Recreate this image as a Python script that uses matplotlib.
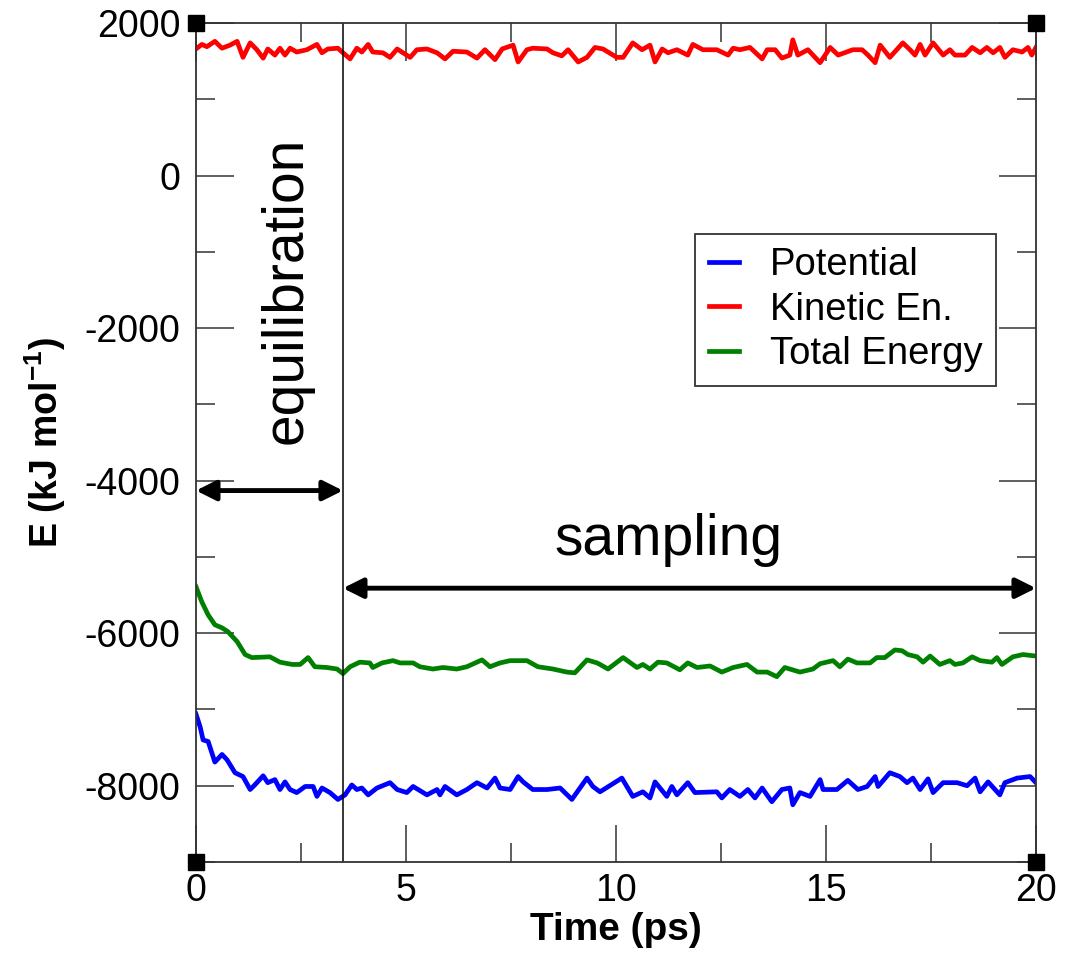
#!/usr/bin/env python
"""
energy_md.py

Potential / kinetic / total energy of a short MD run (xmgrace style)
"""

import numpy as np
import matplotlib as mpl
mpl.use('Agg')
import matplotlib.pyplot as plt
from matplotlib.ticker import MultipleLocator

plt.rcParams['font.family'] = ['Liberation Sans', 'DejaVu Sans']
plt.rcParams['axes.unicode_minus'] = False
plt.rcParams['mathtext.fontset'] = 'custom'
plt.rcParams['mathtext.rm'] = 'Liberation Sans'
plt.rcParams['mathtext.bf'] = 'Liberation Sans:bold'

"""------------------------------ data (read off plot) ------------------------------"""

pot_t = [0.0, 0.1, 0.17, 0.29, 0.45, 0.62, 0.74, 0.93, 1.12, 1.29, 1.4, 1.6, 1.71, 1.88,
         2.0, 2.12, 2.24, 2.4, 2.6, 2.79, 2.88, 3.0, 3.19, 3.38, 3.55, 3.71, 3.83, 3.95,
         4.1, 4.31, 4.62, 4.79, 5.02, 5.17, 5.5, 5.74, 5.81, 5.93, 6.21, 6.45, 6.69, 6.93,
         7.12, 7.24, 7.48, 7.67, 7.79, 8.02, 8.36, 8.67, 8.95, 9.31, 9.45,
         9.62, 10.14, 10.4, 10.64, 10.81, 10.93, 11.21, 11.33, 11.45, 11.71, 11.88, 12.4,
         12.52, 12.71, 12.95, 13.14, 13.31, 13.48, 13.71, 13.95, 14.14, 14.21, 14.38, 14.62,
         14.86, 14.93, 15.26, 15.52, 15.76, 15.98, 16.17, 16.24, 16.52, 16.76, 16.93, 17.07,
         17.24, 17.43, 17.55, 17.79, 18.12, 18.36, 18.55, 18.67, 18.86, 19.14, 19.26, 19.55,
         19.86, 20.0]
pot_e = [-7060, -7230, -7400, -7420, -7690, -7590, -7660, -7830, -7880, -8050, -7990, -7870,
         -7960, -7920, -8050, -7950, -8050, -8090, -8010, -8010, -8140, -8030, -8090, -8180,
         -8120, -7990, -8050, -8030, -8120, -8030, -7960, -8050, -8090, -8010, -8120, -8050,
         -8120, -8010, -8120, -8050, -7960, -8030, -7900, -8030, -8050, -7880, -7950, -8050,
         -8050, -8030, -8180, -7900, -8010,
         -8080, -7900, -8140, -8080, -8160, -7950, -8140, -8010, -8120, -7960, -8090, -8080,
         -8160, -8050, -8140, -8050, -8160, -8030, -8210, -8050, -8030, -8250, -8090, -8140,
         -7920, -8050, -8050, -7930, -8050, -8010, -7880, -8010, -7830, -7880, -7960, -7900,
         -8050, -7910, -8090, -7960, -7960, -8000, -7900, -8080, -7950, -8120, -7960, -7900,
         -7880, -7960]

kin_t = [0.0, 0.14, 0.26, 0.45, 0.62, 0.81, 0.98, 1.12, 1.29, 1.45, 1.6, 1.71, 1.88, 2.0,
         2.12, 2.24, 2.4, 2.64, 2.88, 3.0, 3.14, 3.38, 3.5, 3.67, 3.83, 3.95, 4.1, 4.21,
         4.45, 4.62, 4.79, 4.93, 5.1, 5.26, 5.5, 5.74, 5.93, 6.12, 6.45, 6.69, 6.88, 7.12,
         7.29, 7.55, 7.67, 7.88, 8.02, 8.36, 8.5, 8.71, 8.86, 9.1, 9.31, 9.5, 9.69, 9.93,
         10.02, 10.17, 10.4, 10.62, 10.81, 10.93, 11.1, 11.24, 11.45, 11.71, 11.83, 12.07,
         12.4, 12.67, 12.79, 12.95, 13.19, 13.48, 13.6, 13.79, 13.95, 14.14, 14.21, 14.33,
         14.57, 14.86, 15.1, 15.29, 15.64, 15.86, 16.0, 16.17, 16.29, 16.52, 16.83, 17.0,
         17.12, 17.24, 17.36, 17.55, 17.79, 17.95, 18.07, 18.31, 18.48, 18.67, 18.83, 18.98,
         19.14, 19.26, 19.45, 19.67, 19.81, 19.9, 20.0]
kin_e = [1660, 1720, 1690, 1760, 1670, 1710, 1760, 1550, 1740, 1650, 1540, 1660, 1580, 1670,
         1580, 1670, 1620, 1650, 1720, 1610, 1660, 1670, 1610, 1530, 1670, 1620, 1720, 1620,
         1610, 1550, 1660, 1610, 1550, 1650, 1660, 1610, 1530, 1630, 1620, 1540, 1650, 1520,
         1660, 1710, 1490, 1650, 1670, 1660, 1610, 1570, 1650, 1490, 1550, 1680, 1660, 1580,
         1550, 1550, 1740, 1650, 1710, 1490, 1660, 1610, 1650, 1580, 1720, 1650,
         1650, 1580, 1670, 1650, 1680, 1530, 1650, 1650, 1540, 1580, 1780, 1580,
         1650, 1480, 1680, 1580, 1650, 1650, 1580, 1480, 1710, 1550, 1740, 1650,
         1580, 1720, 1580, 1740, 1580, 1650, 1580, 1580, 1680, 1610, 1680, 1610,
         1680, 1550, 1650, 1620, 1680, 1580, 1680]

tot_t = [0.0, 0.14, 0.29, 0.45, 0.62, 0.76, 0.98, 1.17, 1.33, 1.76, 2.0, 2.29, 2.48, 2.67,
         2.83, 3.12, 3.36, 3.5, 3.67, 3.9, 4.14, 4.21, 4.43, 4.69, 4.86, 5.17, 5.33, 5.64,
         5.88, 6.21, 6.45, 6.81, 7.0, 7.24, 7.48, 7.88, 8.14, 8.5, 8.83, 9.02, 9.31, 9.55,
         9.62, 9.81, 10.17, 10.5, 10.64, 10.81, 11.0, 11.21, 11.52, 11.71, 11.93, 12.24,
         12.52, 12.79, 13.12, 13.36, 13.6, 13.83, 14.02, 14.38, 14.69, 14.86, 15.17, 15.33,
         15.52, 15.74, 16.05, 16.21, 16.4, 16.64, 16.81, 16.95, 17.17, 17.31, 17.48, 17.71,
         17.95, 18.07, 18.26, 18.48, 18.67, 18.95, 19.07, 19.19, 19.45, 19.69, 20.0]
tot_e = [-5390, -5590, -5760, -5890, -5930, -5980, -6110, -6280, -6320, -6310, -6380, -6410,
         -6410, -6320, -6440, -6450, -6470, -6530, -6440, -6380, -6390, -6450, -6390, -6360,
         -6390, -6390, -6440, -6470, -6450, -6470, -6440, -6350, -6440, -6390, -6360, -6360,
         -6440, -6470, -6510, -6520, -6350, -6390,
         -6410, -6470, -6320, -6450, -6410, -6470, -6380, -6390, -6480, -6390, -6450, -6430,
         -6510, -6450, -6410, -6510, -6510, -6570, -6450, -6510, -6470, -6400, -6360, -6440,
         -6340, -6390, -6390, -6320, -6320, -6220, -6230, -6280, -6310, -6380, -6300, -6410,
         -6360, -6410, -6390, -6310, -6360, -6380, -6320, -6410, -6310, -6280, -6300]

t_equil = 3.5

"""------------------------------------------------------------------------------------"""

fig = plt.figure(figsize=(10.72, 9.6), dpi=100)
ax = fig.add_axes([0.1828, 0.1021, 0.7836, 0.8739])

ax.plot(pot_t, pot_e, color='blue', lw=3.4, label='Potential')
ax.plot(kin_t, kin_e, color='red', lw=3.4, label='Kinetic En.')
ax.plot(tot_t, tot_e, color='green', lw=3.4, label='Total Energy')

ax.axvline(t_equil, color='black', lw=1.1)

# double arrows
ax.annotate('', xy=(0, -4130), xytext=(t_equil, -4130),
            arrowprops=dict(arrowstyle='<|-|>', color='black', lw=3.5,
                            mutation_scale=30, shrinkA=0, shrinkB=0))
ax.annotate('', xy=(t_equil, -5410), xytext=(20, -5410),
            arrowprops=dict(arrowstyle='<|-|>', color='black', lw=3.5,
                            mutation_scale=30, shrinkA=0, shrinkB=0))

ax.text(2.17, -1500, 'equilibration', rotation=90, fontsize=41,
        ha='center', va='center')
ax.text(11.24, -4776, 'sampling', fontsize=41, ha='center', va='center')

ax.set_xlim(0, 20)
ax.set_ylim(-9000, 2000)
ax.xaxis.set_major_locator(MultipleLocator(5))
ax.xaxis.set_minor_locator(MultipleLocator(2.5))
ax.yaxis.set_major_locator(MultipleLocator(2000))
ax.yaxis.set_minor_locator(MultipleLocator(1000))
ax.tick_params(which='both', direction='in', top=True, right=True,
               color='#333333', width=1.1)
ax.tick_params(which='major', length=27, labelsize=27)
ax.tick_params(which='minor', length=14)
ax.tick_params(axis='y', pad=11)
ax.tick_params(axis='x', pad=8)
for sp in ax.spines.values():
    sp.set_color('#333333')
    sp.set_linewidth(1.3)

ax.set_xlabel('Time (ps)', fontsize=28, fontweight='bold', labelpad=2)
ax.set_ylabel(r'E (kJ mol$^{\mathbf{-1}}$)', fontsize=27, fontweight='bold', labelpad=12)

# xmgrace corner markers
ax.plot([0, 20, 0, 20], [2000, 2000, -9000, -9000], 's', ms=11.5,
        color='black', clip_on=False, zorder=6)

leg = ax.legend(loc='upper right', bbox_to_anchor=(0.952, 0.7485), fontsize=27.5,
                frameon=True, fancybox=False, framealpha=1, edgecolor='#333333',
                handlelength=0.8, handletextpad=0.8, borderpad=0.35,
                labelspacing=0.22, borderaxespad=0)
leg.get_frame().set_linewidth(1.3)

plt.savefig('out.png', dpi=100)
plt.close()
